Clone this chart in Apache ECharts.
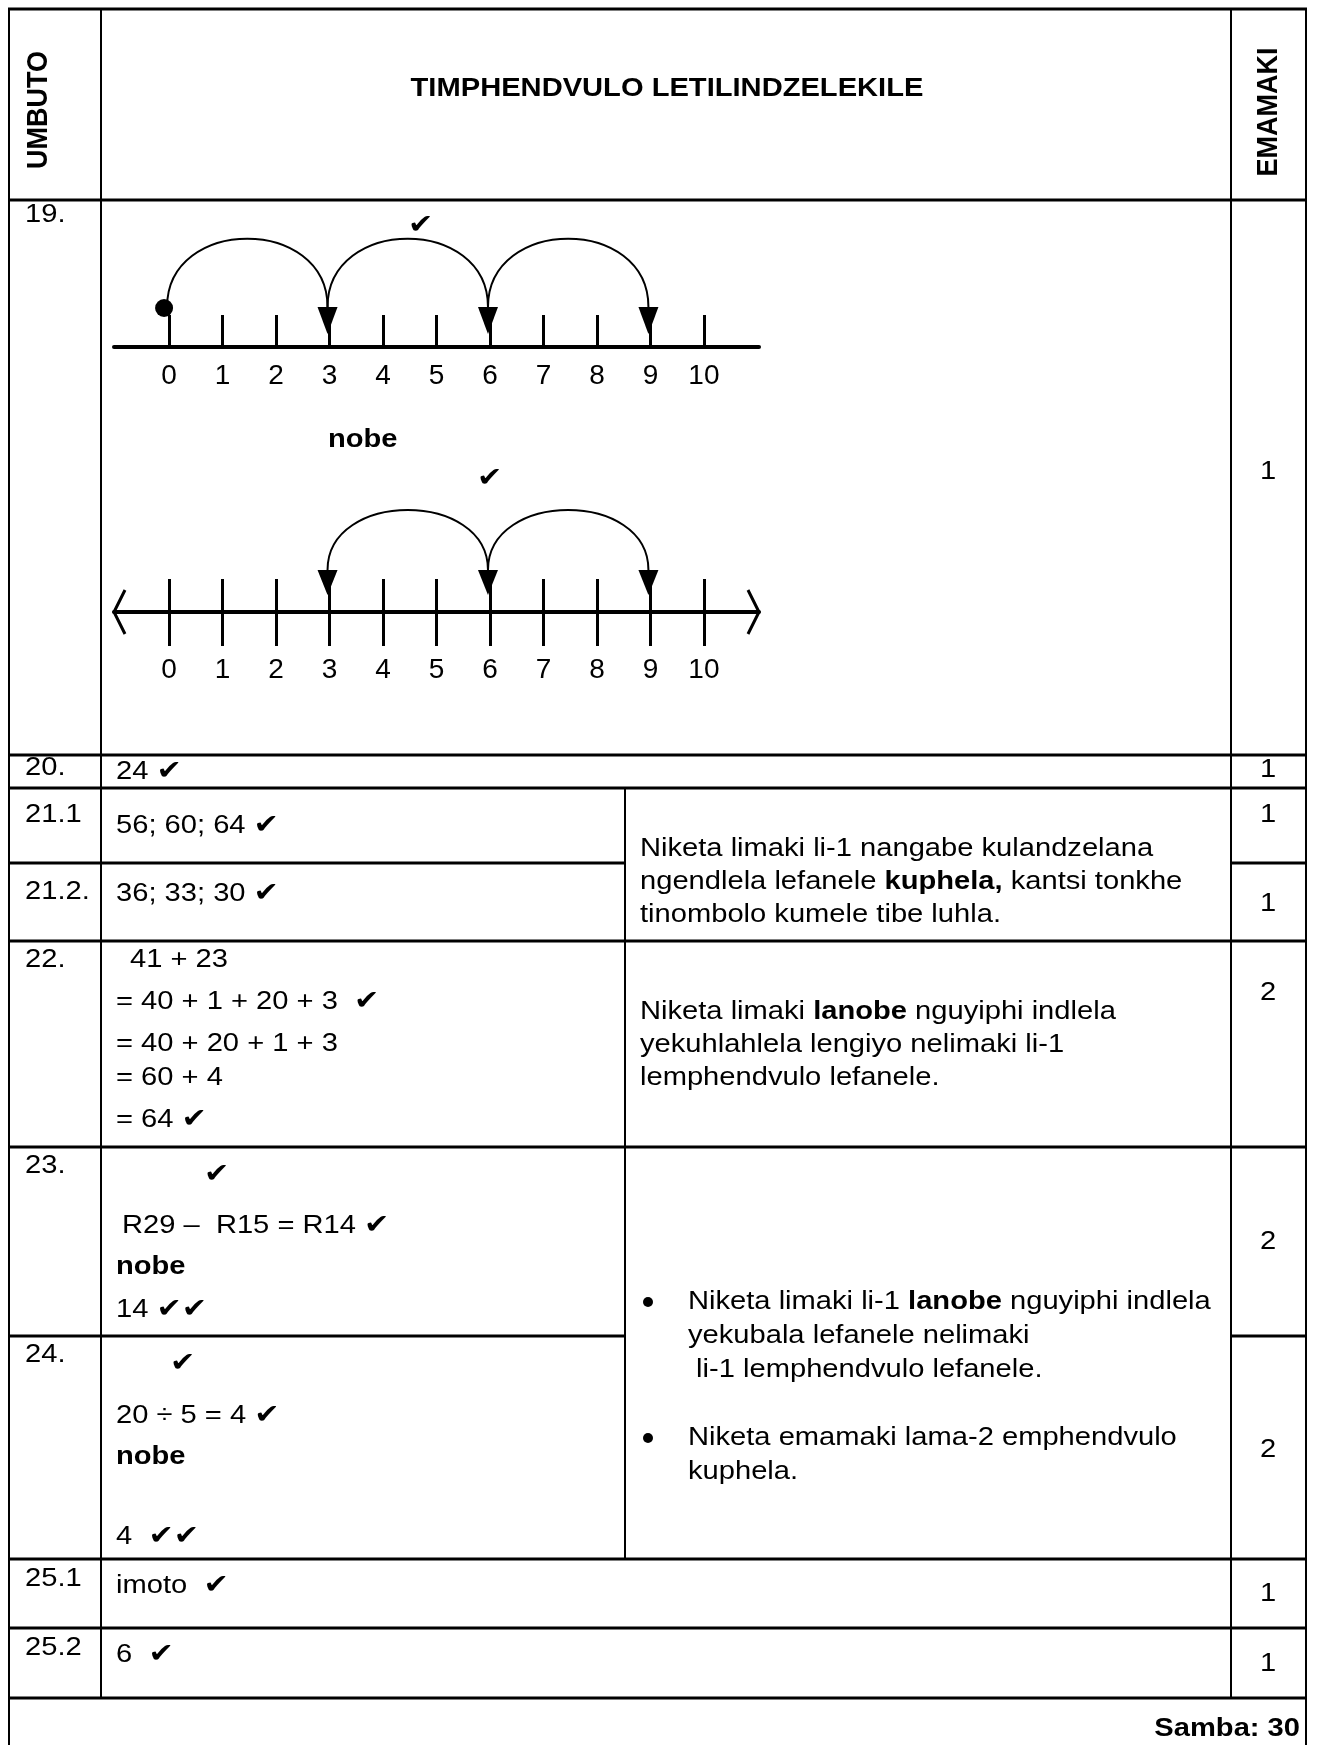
<!DOCTYPE html>
<html>
<head>
<meta charset="utf-8">
<title>Timphendvulo letilindzelekile</title>
<script src="https://cdn.jsdelivr.net/npm/echarts@6/dist/echarts.min.js"></script>
<style>
  html, body { margin: 0; padding: 0; background: #fff; }
  #page { width: 1317px; height: 1745px; }
</style>
</head>
<body>
<div id="page"></div>
<script>
// ---- number line data ----
var tickValues = [0, 1, 2, 3, 4, 5, 6, 7, 8, 9, 10];
var startPoints = [0];
var jumpsTop = [[0, 3], [3, 6], [6, 9]];
var jumpsBottom = [[6, 3], [6, 9]];
var landingPoints = [3, 6, 9];

// ---- table content ----
var headers = ['UMBUTO', 'TIMPHENDVULO LETILINDZELEKILE', 'EMAMAKI'];
var questionNos = ['19.', '20.', '21.1', '21.2.', '22.', '23.', '24.', '25.1', '25.2'];
var markValues = ['1', '1', '1', '1', '2', '2', '2', '1', '1'];
var answerLines = [
  '24 ✓',
  '56; 60; 64 ✓',
  '36; 33; 30 ✓',
  '41 + 23',
  '= 40 + 1 + 20 + 3  ✓',
  '= 40 + 20 + 1 + 3',
  '= 60 + 4',
  '= 64 ✓',
  '✓',
  'R29 –  R15 = R14 ✓',
  '**nobe**',
  '14 ✓✓',
  '✓',
  '20 ÷ 5 = 4 ✓',
  '**nobe**',
  '4  ✓✓',
  'imoto  ✓',
  '6  ✓'
];
var noteLines = [
  'Niketa limaki li-1 nangabe kulandzelana',
  'ngendlela lefanele **kuphela,** kantsi tonkhe',
  'tinombolo kumele tibe luhla.',
  'Niketa limaki **lanobe** nguyiphi indlela',
  'yekuhlahlela lengiyo nelimaki li-1',
  'lemphendvulo lefanele.',
  'Niketa limaki li-1 **lanobe** nguyiphi indlela',
  'yekubala lefanele nelimaki',
  ' li-1 lemphendvulo lefanele.',
  'Niketa emamaki lama-2 emphendvulo',
  'kuphela.'
];
var totalText = '**Samba: 30**';

// ---- layout (pixels) ----
var FONT = "'Liberation Sans', Arial, 'DejaVu Sans', sans-serif";
var FS = 26;
var SX = 1.12;
var colX = [9, 101, 625, 1231, 1306];
var qnoY = [215, 768, 815, 892, 960, 1166, 1355, 1579, 1648];
var markY = [472, 770, 815, 904, 993, 1242, 1450, 1594, 1664];
var answerPos = [
  [116, 772], [116, 826], [116, 894],
  [130, 960], [116, 1002], [116, 1044], [116, 1078], [116, 1120],
  [204, 1175], [122, 1226], [116, 1267], [116, 1310],
  [170, 1364], [116, 1416], [116, 1457], [116, 1537],
  [116, 1586], [116, 1655]
];
var notePos = [
  [640, 849], [640, 882], [640, 915],
  [640, 1012], [640, 1045], [640, 1078],
  [688, 1302], [688, 1336], [688, 1370], [688, 1438], [688, 1472]
];
var bulletPos = [[648, 1302], [648, 1438]];

// rich text: **bold** and check marks
function toRich(str) {
  var out = '';
  str.split(/(\*\*[^*]+\*\*|✓)/).forEach(function (p) {
    if (!p) return;
    if (p === '✓') out += '{c|✔}';
    else if (p.indexOf('**') === 0) out += '{b|' + p.slice(2, -2) + '}';
    else out += '{t|' + p + '}';
  });
  return out;
}

var richStyles = {
  t: { fontFamily: FONT, fontSize: FS, fill: '#000' },
  b: { fontFamily: FONT, fontSize: FS, fontWeight: 'bold', fill: '#000' },
  c: { fontFamily: "'DejaVu Sans', sans-serif", fontSize: 27, fill: '#000' }
};

function txt(x, y, str, align) {
  return {
    type: 'text', x: x, y: y, scaleX: SX, silent: true,
    style: {
      text: toRich(str), rich: richStyles,
      align: align || 'left', textAlign: align || 'left',
      verticalAlign: 'middle', textVerticalAlign: 'middle'
    }
  };
}

function hline(y, x1, x2) {
  return { type: 'line', silent: true, shape: { x1: x1, y1: y, x2: x2, y2: y },
    style: { stroke: '#000', lineWidth: 3 } };
}
function vline(x, y1, y2) {
  return { type: 'line', silent: true, shape: { x1: x, y1: y1, x2: x, y2: y2 },
    style: { stroke: '#000', lineWidth: 2 } };
}

var els = [];
// outer frame and grid lines
els.push(hline(9, 8, 1307));
[200, 755, 788, 941, 1147, 1559, 1628, 1698].forEach(function (y) { els.push(hline(y, 8, 1307)); });
[863, 1336].forEach(function (y) {
  els.push(hline(y, 8, colX[2]));
  els.push(hline(y, colX[3], 1307));
});
els.push(vline(colX[0], 8, 1745));
els.push(vline(colX[1], 8, 1698));
els.push(vline(colX[2], 788, 1559));
els.push(vline(colX[3], 8, 1698));
els.push(vline(colX[4], 8, 1745));

// header
els.push({ type: 'text', x: 39, y: 110, rotation: Math.PI / 2, scaleY: SX, silent: true,
  style: { text: headers[0], font: 'bold 27px ' + FONT, fill: '#000',
    align: 'center', textAlign: 'center', verticalAlign: 'middle', textVerticalAlign: 'middle' } });
els.push(txt(667, 89, '**' + headers[1] + '**', 'center'));
els.push({ type: 'text', x: 1269, y: 112, rotation: Math.PI / 2, scaleY: SX, silent: true,
  style: { text: headers[2], font: 'bold 27px ' + FONT, fill: '#000',
    align: 'center', textAlign: 'center', verticalAlign: 'middle', textVerticalAlign: 'middle' } });

questionNos.forEach(function (q, i) { els.push(txt(25, qnoY[i], q)); });
markValues.forEach(function (m, i) { els.push(txt(1268, markY[i], m, 'center')); });
answerLines.forEach(function (a, i) { els.push(txt(answerPos[i][0], answerPos[i][1], a)); });
noteLines.forEach(function (n, i) { els.push(txt(notePos[i][0], notePos[i][1], n)); });
bulletPos.forEach(function (p) {
  els.push({ type: 'circle', silent: true, shape: { cx: p[0], cy: p[1], r: 5 }, style: { fill: '#000' } });
});
els.push(txt(1300, 1729, totalText, 'right'));

// number line extras
els.push(txt(328, 440, '**nobe**'));
els.push(txt(408, 226, '✓'));
els.push(txt(477, 479, '✓'));
// open arrow ends of the second line
els.push({ type: 'polyline', silent: true, shape: { points: [[125, 590], [114, 612], [125, 634]] },
  style: { stroke: '#000', lineWidth: 3, fill: null } });
els.push({ type: 'polyline', silent: true, shape: { points: [[748, 590], [759, 612], [748, 634]] },
  style: { stroke: '#000', lineWidth: 3, fill: null } });

// ---- series renderers ----
function arcRender(base, lift) {
  return function (params, api) {
    var a = api.coord([api.value(0), 0]);
    var b = api.coord([api.value(1), 0]);
    var x1 = a[0] - 2, x2 = b[0] - 2, y = a[1] - base;
    return {
      type: 'bezierCurve',
      shape: { x1: x1, y1: y, x2: x2, y2: y, cpx1: x1, cpy1: y - lift, cpx2: x2, cpy2: y - lift },
      style: { stroke: '#000', fill: null, lineWidth: 2 }
    };
  };
}
function headRender(top, tip) {
  return function (params, api) {
    var p = api.coord([api.value(0), 0]);
    var x = p[0] - 2;
    return {
      type: 'polygon',
      shape: { points: [[x - 10, p[1] - top], [x + 10, p[1] - top], [x, p[1] - tip]] },
      style: { fill: '#000' }
    };
  };
}
function dotRender(params, api) {
  var p = api.coord([api.value(0), 0]);
  return { type: 'circle', shape: { cx: p[0] - 5, cy: p[1] - 39, r: 9 }, style: { fill: '#000' } };
}

function numberAxis(grid, opts) {
  return Object.assign({
    gridIndex: grid, type: 'value', position: 'bottom', min: -1.03, max: 11.03,
    axisLine: { show: true, onZero: false, lineStyle: { color: '#000', width: 4 } },
    axisTick: { show: true, inside: true, length: 32, customValues: tickValues,
      lineStyle: { color: '#000', width: 3 } },
    axisLabel: { show: true, customValues: tickValues, margin: 15, color: '#000',
      fontSize: 28, fontFamily: FONT },
    splitLine: { show: false }
  }, opts);
}

var chart = echarts.init(document.getElementById('page'), null, { renderer: 'canvas' });
chart.setOption({
  backgroundColor: '#fff',
  animation: false,
  grid: [
    { left: 114, top: 200, width: 645, height: 147, outerBoundsMode: 'none' },
    { left: 114, top: 460, width: 645, height: 152, outerBoundsMode: 'none' }
  ],
  xAxis: [
    numberAxis(0, {}),
    numberAxis(1, { axisTick: { show: true, inside: true, length: 33, customValues: tickValues,
      lineStyle: { color: '#000', width: 3 } }, axisLabel: { show: false } }),
    numberAxis(1, { axisLine: { show: false },
      axisTick: { show: true, inside: false, length: 34, customValues: tickValues,
        lineStyle: { color: '#000', width: 3 } },
      axisLabel: { show: true, customValues: tickValues, margin: 44, color: '#000',
        fontSize: 28, fontFamily: FONT } })
  ],
  yAxis: [
    { gridIndex: 0, type: 'value', min: 0, max: 147, show: false },
    { gridIndex: 1, type: 'value', min: 0, max: 152, show: false }
  ],
  series: [
    { type: 'custom', xAxisIndex: 0, yAxisIndex: 0, data: jumpsTop, renderItem: arcRender(40, 91), silent: true },
    { type: 'custom', xAxisIndex: 0, yAxisIndex: 0, data: landingPoints, renderItem: headRender(40, 13), silent: true },
    { type: 'custom', xAxisIndex: 0, yAxisIndex: 0, data: startPoints, renderItem: dotRender, silent: true },
    { type: 'custom', xAxisIndex: 1, yAxisIndex: 1, data: jumpsBottom, renderItem: arcRender(42, 80), silent: true },
    { type: 'custom', xAxisIndex: 1, yAxisIndex: 1, data: landingPoints, renderItem: headRender(42, 17), silent: true }
  ],
  graphic: { elements: els }
});
</script>
</body>
</html>
